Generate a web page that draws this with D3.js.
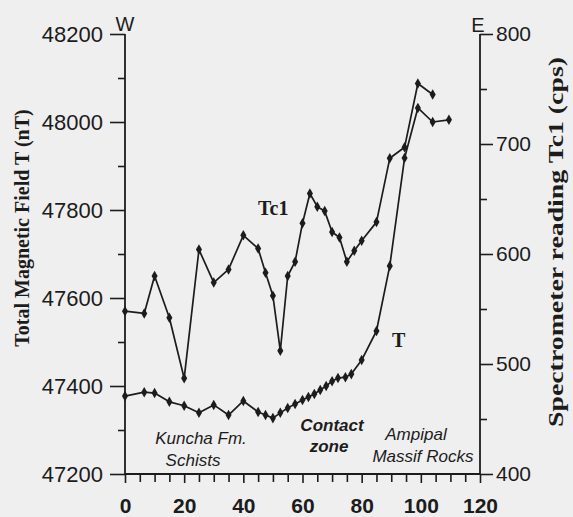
<!DOCTYPE html>
<html>
<head>
<meta charset="utf-8">
<script src="https://cdn.jsdelivr.net/npm/d3@7/dist/d3.min.js"></script>
<style>
  html, body { margin: 0; padding: 0; background: #efefef; }
  svg { display: block; }
</style>
</head>
<body>
<svg id="chart" width="573" height="517"></svg>
<script>
// Distance along the W-E profile (m)
const tDist  = [0, 6.5, 10, 15, 20, 25, 30, 35, 40, 45, 47.5, 50, 52.5, 55, 57.5, 60, 62, 64, 66, 68, 70, 72, 74.5, 76.5, 80, 85, 89.5, 94.5, 99, 104, 109.5];
// Total magnetic field T (nT)
const tField = [47377, 47386, 47384, 47364, 47355, 47339, 47357, 47334, 47366, 47341, 47334, 47327, 47339, 47350, 47359, 47368, 47375, 47382, 47391, 47400, 47411, 47418, 47420, 47427, 47459, 47525, 47673, 47918, 48032, 48000, 48005];

const tcDist = [0, 6.5, 10, 15, 20, 25, 30, 35, 40, 45, 47.5, 50, 52.5, 55, 57.5, 60, 62.5, 65, 67.5, 70, 72.5, 75, 77.5, 80, 85, 89.5, 94.5, 99, 104];
// Spectrometer total count Tc1 (cps)
const tcCps  = [548, 546, 580, 542, 487, 604, 574, 586, 617, 605, 583, 562, 512, 580, 593, 628, 655, 643, 639, 620, 615, 593, 603, 612, 629, 687, 697, 755, 745];

const xTicks = [0, 20, 40, 60, 80, 100, 120];
const leftTicks = [47200, 47400, 47600, 47800, 48000, 48200];
const rightTicks = [400, 500, 600, 700, 800];

// Rock units along the profile
const zoneNames = [["Kuncha Fm.", "Schists"], ["Contact", "zone"], ["Ampipal", "Massif Rocks"]];

const svg = d3.select("#chart");
const ink = "#1c1c1c";
const sans = "'Liberation Sans', Arial, sans-serif";
const serif = "'Liberation Serif', 'Times New Roman', serif";

const x = d3.scaleLinear().domain([0, 120]).range([125, 480]);
const yL = d3.scaleLinear().domain([47200, 48200]).range([474, 34]);
const yR = d3.scaleLinear().domain([400, 800]).range([474, 34]);

// Left axis: labelled every 200 nT, minor every 100 nT
const gL = svg.append("g").attr("transform", `translate(${x(0)},0)`)
  .call(d3.axisLeft(yL).tickValues(leftTicks).tickSize(15).tickPadding(7).tickFormat(d3.format("d")));
gL.append("g").call(d3.axisLeft(yL).tickValues(d3.range(47300, 48200, 200)).tickSize(7).tickFormat(""));

// Right axis: labelled every 100 cps, minor every 50 cps
const gR = svg.append("g").attr("transform", `translate(${x(120)},0)`)
  .call(d3.axisRight(yR).tickValues(rightTicks).tickSize(13).tickPadding(3).tickFormat(d3.format("d")));
gR.append("g").call(d3.axisRight(yR).tickValues(d3.range(450, 800, 100)).tickSize(7).tickFormat(""));

// Bottom axis: labelled every 20 m, ticks every 5 m
const gB = svg.append("g").attr("transform", `translate(0,${yL(47200)})`)
  .call(d3.axisBottom(x).tickValues(xTicks).tickSize(9).tickPadding(15).tickFormat(d3.format("d")));
gB.append("g").call(d3.axisBottom(x).tickValues(d3.range(5, 120, 5).filter(v => v % 20 !== 0)).tickSize(8).tickFormat(""));

[gL, gR, gB].forEach(g => {
  g.selectAll(".domain").remove();
  g.selectAll("line").attr("stroke", ink).attr("stroke-width", 1.6);
  g.selectAll("text").attr("fill", ink).style("font-family", sans).style("font-size", "21px");
});
gL.selectAll("text").style("font-size", "22px");
gB.selectAll("text").style("font-weight", "bold").style("font-size", "21px");

// Axis frame lines (left, right, bottom)
svg.append("line").attr("x1", x(0)).attr("x2", x(0)).attr("y1", yL(48200)).attr("y2", yL(47200))
  .attr("stroke", ink).attr("stroke-width", 1.8);
svg.append("line").attr("x1", x(120)).attr("x2", x(120)).attr("y1", yR(800)).attr("y2", yR(400))
  .attr("stroke", ink).attr("stroke-width", 1.8);
svg.append("line").attr("x1", x(0)).attr("x2", x(120)).attr("y1", yL(47200)).attr("y2", yL(47200))
  .attr("stroke", ink).attr("stroke-width", 1.8);

// Compass labels
svg.append("text").attr("x", x(0)).attr("y", 31).attr("text-anchor", "middle")
  .style("font-family", sans).style("font-size", "20px").attr("fill", ink).text("W");
svg.append("text").attr("x", x(120) - 2).attr("y", 32).attr("text-anchor", "middle")
  .style("font-family", sans).style("font-size", "20px").attr("fill", ink).text("E");

// Axis titles
svg.append("text").attr("transform", `translate(29,228) rotate(-90)`).attr("text-anchor", "middle")
  .style("font-family", serif).style("font-weight", "bold").style("font-size", "20px").attr("fill", ink)
  .text("Total Magnetic Field T (nT)");
svg.append("text").attr("transform", `translate(563,242) rotate(-90)`).attr("text-anchor", "middle")
  .attr("textLength", 370).attr("lengthAdjust", "spacingAndGlyphs")
  .style("font-family", serif).style("font-weight", "bold").style("font-size", "21px").attr("fill", ink)
  .text("Spectrometer reading Tc1 (cps)");

// Profiles
const tData = tDist.map((d, i) => [d, tField[i]]);
const tcData = tcDist.map((d, i) => [d, tcCps[i]]);

const lineT = d3.line().x(d => x(d[0])).y(d => yL(d[1]));
const lineTc = d3.line().x(d => x(d[0])).y(d => yR(d[1]));

svg.append("path").datum(tcData).attr("d", lineTc)
  .attr("fill", "none").attr("stroke", ink).attr("stroke-width", 1.7).attr("stroke-linejoin", "round");
svg.append("path").datum(tData).attr("d", lineT)
  .attr("fill", "none").attr("stroke", ink).attr("stroke-width", 1.7).attr("stroke-linejoin", "round");

const marker = d3.symbol().type(d3.symbolDiamond).size(32);
svg.append("g").selectAll("path").data(tcData).join("path")
  .attr("d", marker).attr("transform", d => `translate(${x(d[0])},${yR(d[1])})`).attr("fill", ink);
svg.append("g").selectAll("path").data(tData).join("path")
  .attr("d", marker).attr("transform", d => `translate(${x(d[0])},${yL(d[1])})`).attr("fill", ink);

// Curve labels
svg.append("text").attr("x", 258).attr("y", 215)
  .style("font-family", serif).style("font-weight", "bold").style("font-size", "20px").attr("fill", ink).text("Tc1");
svg.append("text").attr("x", 392).attr("y", 347)
  .style("font-family", serif).style("font-weight", "bold").style("font-size", "20px").attr("fill", ink).text("T");

// Unit labels: centre x and baseline of each line
const zoneAt = [[[201, 444], [193, 466]], [[332, 431], [329, 452]], [[416, 440], [423, 462]]];
zoneNames.forEach((names, i) => {
  names.forEach((t, j) => {
    svg.append("text").attr("x", zoneAt[i][j][0]).attr("y", zoneAt[i][j][1]).attr("text-anchor", "middle")
      .style("font-family", sans).style("font-style", "italic")
      .style("font-weight", i === 1 ? "bold" : "normal").style("font-size", "17px")
      .attr("fill", ink).text(t);
  });
});
</script>
</body>
</html>
